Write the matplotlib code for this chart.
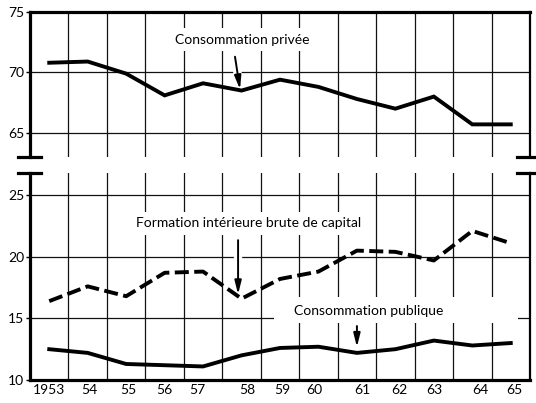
import numpy as np
import matplotlib
matplotlib.use("Agg")
import matplotlib.pyplot as plt
from matplotlib.patches import Rectangle
from matplotlib.lines import Line2D

plt.rcParams['font.family'] = ['Lato', 'DejaVu Sans']

# data (% of GDP)
years = np.arange(1953, 1966)
tick_labels = ['1953', '54', '55', '56', '57', '58', '59', '60', '61', '62', '63', '64', '65']
conso_privee = [70.8, 70.9, 69.9, 68.1, 69.1, 68.5, 69.4, 68.8, 67.8, 67.0, 68.0, 65.7, 65.7]
formation_capital = [16.4, 17.6, 16.8, 18.7, 18.8, 16.6, 18.2, 18.8, 20.5, 20.4, 19.7, 22.1, 21.1]
conso_publique = [12.5, 12.2, 11.3, 11.2, 11.1, 12.0, 12.6, 12.7, 12.2, 12.5, 13.2, 12.8, 13.0]

# hand lettered labels are not quite centred on the years
label_shift = [0, 0.05, 0.05, 0, -0.15, 0.15, 0.05, -0.1, 0.15, 0.1, 0, 0.2, 0.1]

W, H = 536, 403
fig = plt.figure(figsize=(W / 100, H / 100), dpi=100)
left, right = 30 / W, 530 / W
ax_top = fig.add_axes([left, 1 - 157 / H, right - left, 145 / H])
ax_bot = fig.add_axes([left, 1 - 380 / H, right - left, 207 / H])

lw_data = 2.8
for ax in (ax_top, ax_bot):
    ax.set_xlim(1952.5, 1965.5)
    ax.set_axisbelow(True)
    ax.set_xticks(years + 0.5, minor=True)
    ax.grid(True, which='minor', axis='x', color='#111111', lw=0.9)
    ax.grid(True, which='major', axis='y', color='#111111', lw=0.9)
    ax.tick_params(axis='x', which='both', length=0)
    ax.tick_params(axis='y', length=3, width=1, labelsize=10, pad=1)
    for s in ax.spines.values():
        s.set_linewidth(2.3)
    ax.spines['right'].set_linewidth(1.6)

ax_top.set_ylim(63.0, 75)
ax_top.set_yticks([65, 70, 75])
ax_top.set_xticks([])
ax_top.spines['bottom'].set_visible(False)

ax_bot.set_ylim(10, 26.8)
ax_bot.set_yticks([10, 15, 20, 25])
ax_bot.set_xticks(years + np.array(label_shift))
ax_bot.set_xticklabels(tick_labels, fontsize=10)
ax_bot.tick_params(axis='x', pad=3)
ax_bot.spines['top'].set_visible(False)

ax_top.plot(years, conso_privee, color='black', lw=lw_data, zorder=3,
            solid_joinstyle='miter')
ax_bot.plot(years, formation_capital, color='black', lw=lw_data, zorder=3,
            linestyle=(0, (3.6, 1.4)))
ax_bot.plot(years, conso_publique, color='black', lw=lw_data, zorder=3)

# labels with white background cutting the grid
box = dict(facecolor='white', edgecolor='none', pad=4)
arrow = dict(arrowstyle='-|>,head_length=0.8,head_width=0.2', color='black',
             lw=1.4, shrinkA=0, shrinkB=0)


def pointer(ax, tip, tail, gap=True):
    if gap:
        ax.plot([tail[0], tip[0]], [tail[1], tip[1]], color='white', lw=6,
                solid_capstyle='butt', zorder=2)
    ax.annotate('', xy=tip, xytext=tail, arrowprops=arrow, zorder=4)


ax_top.text(1958.03, 72.7, 'Consommation privée', ha='center', va='center',
            fontsize=10, bbox=box, zorder=4)
pointer(ax_top, (1957.96, 68.6), (1957.83, 71.3))

ax_bot.text(1958.17, 22.73, 'Formation intérieure brute de capital', ha='center',
            va='center', fontsize=10, bbox=box, zorder=4)
pointer(ax_bot, (1957.91, 16.95), (1957.91, 21.35))

ax_bot.add_patch(Rectangle((1958.84, 14.62), 6.36, 2.1, facecolor='white',
                           edgecolor='none', zorder=1))
ax_bot.text(1961.31, 15.6, 'Consommation publique', ha='center', va='center',
            fontsize=10, bbox=box, zorder=4)
pointer(ax_bot, (1961.0, 12.68), (1961.0, 14.38), gap=False)

# axis break marks
for y in (157, 173):
    for x0, x1 in ((18, 41), (517, 540)):
        fig.add_artist(Line2D([x0 / W, x1 / W], [1 - y / H, 1 - y / H],
                              color='black', lw=2.3))

fig.savefig('out.png', dpi=100)
